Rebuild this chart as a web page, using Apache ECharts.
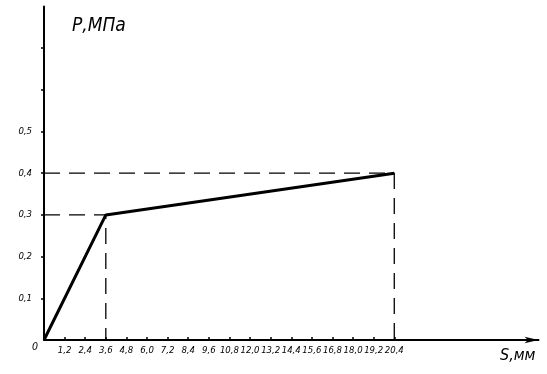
<!DOCTYPE html>
<html>
<head>
<meta charset="utf-8">
<script src="https://cdn.jsdelivr.net/npm/echarts@6/dist/echarts.min.js"></script>
<style>html,body{margin:0;padding:0;background:#fff}#c{width:547px;height:374px}</style>
</head>
<body>
<div id="c"></div>
<script>
// Data
var sValues = [0, 3.6, 20.4];          // S, mm
var pValues = [0, 0.3, 0.4];           // P, MPa
var xTickValues = [1.2, 2.4, 3.6, 4.8, 6.0, 7.2, 8.4, 9.6, 10.8, 12.0, 13.2, 14.4, 15.6, 16.8, 18.0, 19.2, 20.4];
var yTickValues = [0.1, 0.2, 0.3, 0.4, 0.5, 0.6, 0.7];
var yLabelValues = [0.1, 0.2, 0.3, 0.4, 0.5];
var guideA = [[0, 0.4], [20.4, 0.4], [20.4, 0]];
var guideB = [[0, 0.3], [3.6, 0.3], [3.6, 0]];

var fmt = function (v) { return v.toFixed(1).replace('.', ','); };
var font = 'DejaVu Sans';
var narrow = '"Liberation Sans Narrow", "DejaVu Sans Condensed", sans-serif';

var chart = echarts.init(document.getElementById('c'));
chart.setOption({
  animation: false,
  backgroundColor: '#fff',
  grid: { left: 44, right: 8.5, top: 6.4, bottom: 34 },
  xAxis: {
    type: 'value', min: 0, max: 28.8,
    splitLine: { show: false },
    axisLine: { lineStyle: { color: '#000', width: 2 }, symbol: ['none', 'arrow'], symbolSize: [5, 14] },
    axisTick: { customValues: xTickValues, length: 3, inside: true, lineStyle: { color: '#000', width: 1.5 } },
    axisLabel: { customValues: xTickValues, formatter: fmt, color: '#000', fontSize: 9.5, fontStyle: 'italic', fontFamily: narrow, margin: 6 }
  },
  yAxis: {
    type: 'value', min: 0, max: 0.8,
    splitLine: { show: false },
    axisLine: { lineStyle: { color: '#000', width: 2 } },
    axisTick: { customValues: yTickValues, length: 3, lineStyle: { color: '#000', width: 1.5 } },
    axisLabel: { customValues: yLabelValues, formatter: fmt, color: '#000', fontSize: 9.5, fontStyle: 'italic', fontFamily: narrow, margin: 12 }
  },
  graphic: [
    { type: 'text', left: 72, top: 17, style: { text: 'Р,МПа', fontSize: 19, fontStyle: 'italic', fontFamily: narrow, fill: '#000' } },
    { type: 'text', left: 500, top: 348, style: { text: 'S,мм', fontSize: 16, fontStyle: 'italic', fontFamily: narrow, fill: '#000' } },
    { type: 'text', left: 32, top: 342, style: { text: '0', fontSize: 10.5, fontStyle: 'italic', fontFamily: narrow, fill: '#000' } }
  ],
  series: [
    { type: 'line', data: guideA, symbol: 'none', lineStyle: { color: '#000', width: 1.3, type: [16, 9] }, z: 1 },
    { type: 'line', data: guideB, symbol: 'none', lineStyle: { color: '#000', width: 1.3, type: [16, 9] }, z: 1 },
    { type: 'line', data: sValues.map(function (s, i) { return [s, pValues[i]]; }), symbol: 'none',
      lineStyle: { color: '#000', width: 3 }, z: 3 }
  ]
});
</script>
</body>
</html>
